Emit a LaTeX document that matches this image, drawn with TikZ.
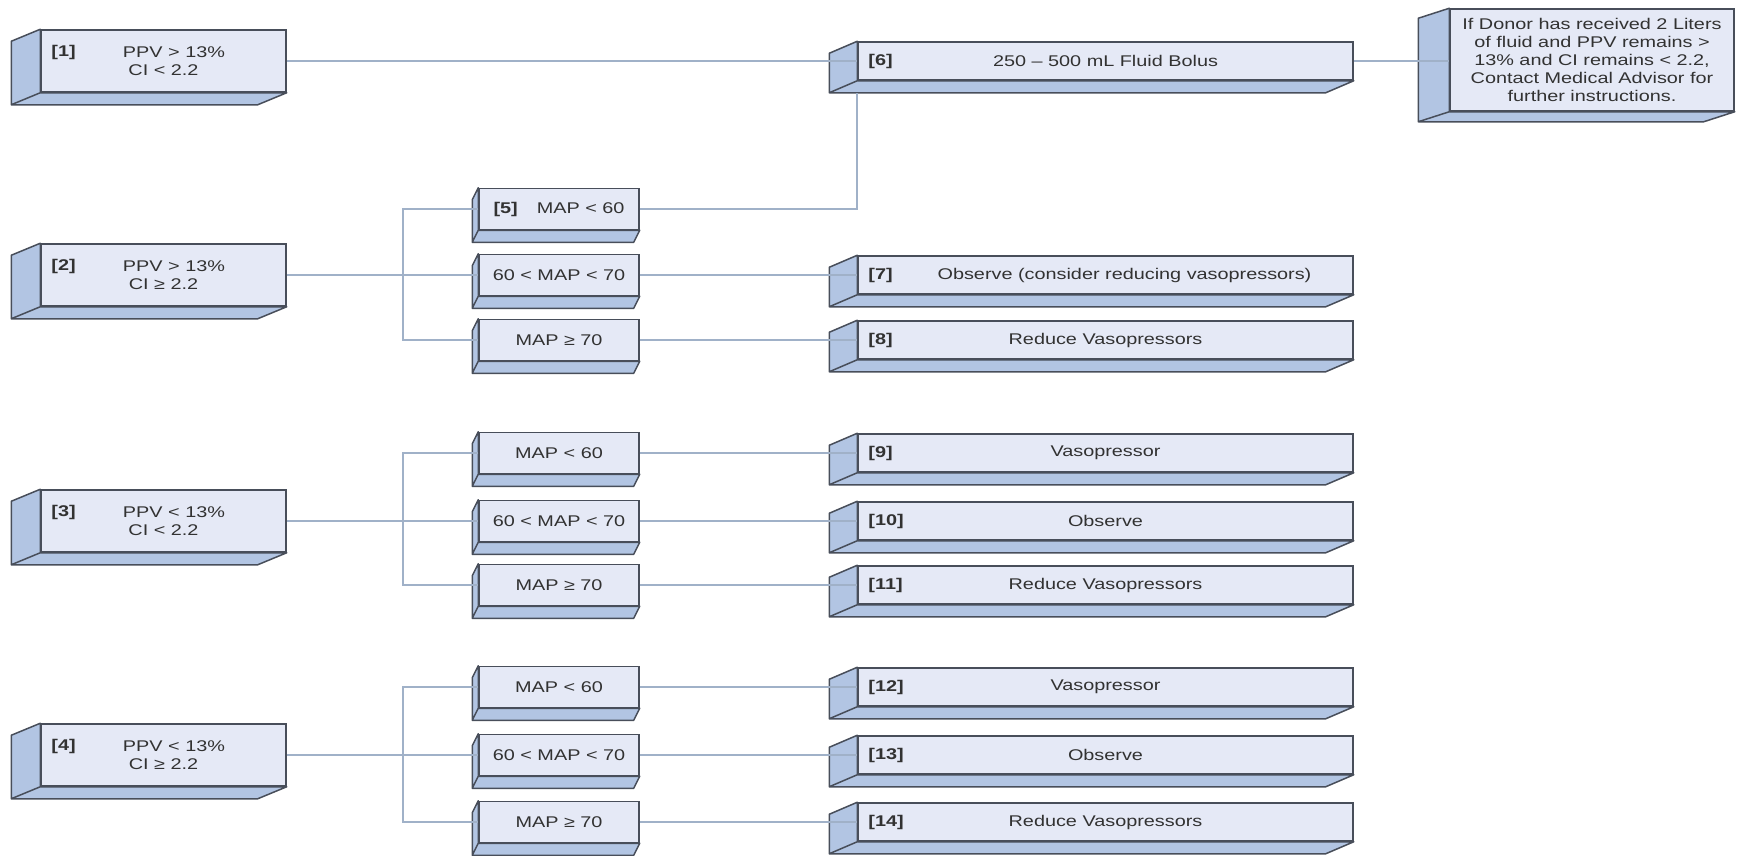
\documentclass[tikz,border=0pt]{standalone}
\usepackage{fontspec}
\setmainfont{Liberation Sans}[FakeStretch=1.28]
\usepackage{tikz}
\definecolor{facefront}{RGB}{229,233,246}
\definecolor{faceside}{RGB}{178,197,227}
\definecolor{faceedge}{RGB}{72,78,90}
\definecolor{linkline}{RGB}{160,177,200}
\definecolor{inktext}{RGB}{50,50,50}
\tikzstyle{slab} = [rectangle, draw=faceedge, fill=facefront, line width=1.5pt,
                    inner sep=0pt, text=inktext, font=\fontsize{15.5}{18}\selectfont]
\tikzstyle{link} = [linkline, line width=1.8pt]

\begin{document}
\begin{tikzpicture}[x=1pt, y=-1pt,
    cond/.style={slab, minimum width=245pt, minimum height=62pt, align=center},
    mapbox/.style={slab, minimum width=160pt, minimum height=41pt},
    act/.style={slab, minimum width=495pt, minimum height=38pt},
    tagl/.style={inner sep=0pt, anchor=west, xshift=11pt, text=inktext,
                 font=\fontsize{15.5}{18}\selectfont\bfseries}]

  \useasboundingbox (0,0) rectangle (1737,855);

  \node[cond, label={[tagl, yshift=9pt]west:{[1]}}] (b1) at (163.5, 61)  {\hspace*{21pt}PPV > 13\%\\CI < 2.2};
  \node[cond, label={[tagl, yshift=9pt]west:{[2]}}] (b2) at (163.5, 275) {\hspace*{21pt}PPV > 13\%\\CI ≥ 2.2};
  \node[cond, label={[tagl, yshift=9pt]west:{[3]}}] (b3) at (163.5, 521) {\hspace*{21pt}PPV < 13\%\\CI < 2.2};
  \node[cond, label={[tagl, yshift=9pt]west:{[4]}}] (b4) at (163.5, 755) {\hspace*{21pt}PPV < 13\%\\CI ≥ 2.2};

  \node[mapbox] (b5)  at (559, 209) {\textbf{[5]}\hspace{19pt}MAP < 60};
  \node[mapbox] (m2b) at (559, 275) {60 < MAP < 70};
  \node[mapbox] (m2c) at (559, 340) {MAP ≥ 70};
  \node[mapbox] (m3a) at (559, 453) {MAP < 60};
  \node[mapbox] (m3b) at (559, 521) {60 < MAP < 70};
  \node[mapbox] (m3c) at (559, 585) {MAP ≥ 70};
  \node[mapbox] (m4a) at (559, 687) {MAP < 60};
  \node[mapbox] (m4b) at (559, 755) {60 < MAP < 70};
  \node[mapbox] (m4c) at (559, 822) {MAP ≥ 70};

  \node[act, label={[tagl]west:{[6]}}]  (b6)  at (1105.5, 61)  {250 – 500 mL Fluid Bolus};
  \node[act, label={[tagl]west:{[7]}}]  (b7)  at (1105.5, 275) {\hspace*{38pt}Observe (consider reducing vasopressors)};
  \node[act, label={[tagl]west:{[8]}}]  (b8)  at (1105.5, 340) {Reduce Vasopressors};
  \node[act, label={[tagl]west:{[9]}}]  (b9)  at (1105.5, 453) {Vasopressor};
  \node[act, label={[tagl]west:{[10]}}] (b10) at (1105.5, 521) {Observe};
  \node[act, label={[tagl]west:{[11]}}] (b11) at (1105.5, 585) {Reduce Vasopressors};
  \node[act, label={[tagl]west:{[12]}}] (b12) at (1105.5, 687) {Vasopressor};
  \node[act, label={[tagl]west:{[13]}}] (b13) at (1105.5, 755) {Observe};
  \node[act, label={[tagl]west:{[14]}}] (b14) at (1105.5, 822) {Reduce Vasopressors};

  \node[slab, minimum width=284pt, minimum height=102pt, align=center] (note) at (1592, 60)
        {If Donor has received 2 Liters\\of fluid and PPV remains >\\13\% and CI remains < 2.2,\\Contact Medical Advisor for\\further instructions.};

  \foreach \n/\dx/\dy in {b1/29/12, b2/29/12, b3/29/12, b4/29/12, note/31/10,
                          b5/6/12, m2b/6/12, m2c/6/12, m3a/6/12, m3b/6/12, m3c/6/12,
                          m4a/6/12, m4b/6/12, m4c/6/12,
                          b6/28/12, b7/28/12, b8/28/12, b9/28/12, b10/28/12,
                          b11/28/12, b12/28/12, b13/28/12, b14/28/12}
    \draw[faceedge, fill=faceside, line width=1.5pt, line join=round]
      (\n.north west) -- (\n.south west) -- ++(-\dx,\dy) -- ([shift={(-\dx,\dy)}]\n.north west) -- cycle
      (\n.south west) -- (\n.south east) -- ++(-\dx,\dy) -- ([shift={(-\dx,\dy)}]\n.south west) -- cycle;

  \coordinate (b6foot) at ([yshift=-12pt]b6.south west);
  \coordinate (fork2) at (403, 275);
  \coordinate (fork3) at (403, 521);
  \coordinate (fork4) at (403, 755);

  \draw[link] (b1.east) -- (b6.west);
  \draw[link] (b6.east) -- (b6.east -| note.west);
  \draw[link] (b5.east) -| (b6foot);

  \draw[link] (b2.east) -- (m2b.west);
  \draw[link] (b5.west) -| (fork2) |- (m2c.west);
  \draw[link] (m2b.east) -- (b7.west);
  \draw[link] (m2c.east) -- (b8.west);

  \draw[link] (b3.east) -- (m3b.west);
  \draw[link] (m3a.west) -| (fork3) |- (m3c.west);
  \draw[link] (m3a.east) -- (b9.west);
  \draw[link] (m3b.east) -- (b10.west);
  \draw[link] (m3c.east) -- (b11.west);

  \draw[link] (b4.east) -- (m4b.west);
  \draw[link] (m4a.west) -| (fork4) |- (m4c.west);
  \draw[link] (m4a.east) -- (b12.west);
  \draw[link] (m4b.east) -- (b13.west);
  \draw[link] (m4c.east) -- (b14.west);
\end{tikzpicture}
\end{document}
